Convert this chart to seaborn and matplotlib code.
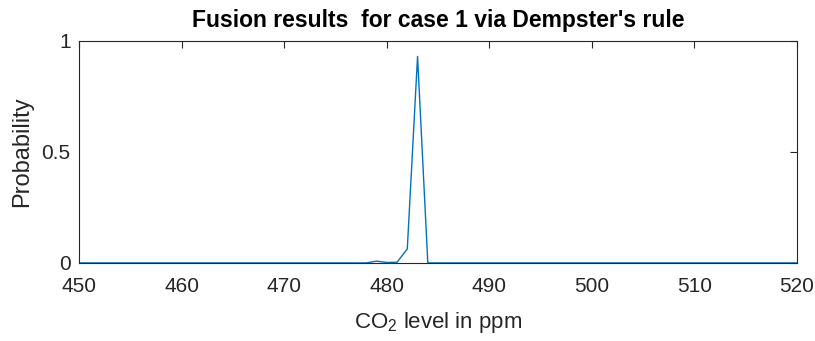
import numpy as np
import pandas as pd
import matplotlib
matplotlib.use("Agg")
import matplotlib.pyplot as plt
import seaborn as sns

co2_ppm = list(range(450, 521))
peak_x = [478, 479, 480, 481, 482, 483, 484]
peak_p = [0.0, 0.008, 0.002, 0.003, 0.063, 0.93, 0.0]
probability = [peak_p[peak_x.index(v)] if v in peak_x else 0.0 for v in co2_ppm]
x_ticks = [450, 460, 470, 480, 490, 500, 510, 520]
y_ticks = [0, 0.5, 1]
y_tick_labels = ["0", "0.5", "1"]

sns.set_theme(style="white")
plt.rcParams['font.family'] = ['Liberation Sans', 'DejaVu Sans']
plt.rcParams['mathtext.fontset'] = 'custom'
plt.rcParams['mathtext.rm'] = 'Liberation Sans'
plt.rcParams['mathtext.it'] = 'Liberation Sans'

df = pd.DataFrame({"co2": co2_ppm, "p": probability})

fig = plt.figure(figsize=(8.15, 3.41), dpi=100)
ax = fig.add_axes([0.097, 0.229, 0.881, 0.651])
sns.lineplot(data=df, x="co2", y="p", ax=ax, color="#0072BD", linewidth=1.0)

ax.set_xlim(450, 520)
ax.set_ylim(0, 1)
ax.set_xticks(x_ticks)
ax.set_yticks(y_ticks)
ax.set_yticklabels(y_tick_labels)
ax.tick_params(direction="in", length=5, width=0.8, colors="#262626",
               labelsize=15, top=True, right=True, labelcolor="#262626")
ax.tick_params(axis="x", pad=10)
ax.tick_params(axis="y", pad=6)
for s in ax.spines.values():
    s.set_color("#262626")
    s.set_linewidth(0.8)
ax.set_xlabel("CO$_2$ level in ppm", fontsize=16, color="#262626", labelpad=10)
ax.set_ylabel("Probability", fontsize=17, color="#262626", labelpad=6)
ax.set_title("Fusion results  for case 1 via Dempster's rule", fontsize=16.5,
             fontweight="bold", color="black", pad=10)
fig.savefig("out.png", dpi=100)
